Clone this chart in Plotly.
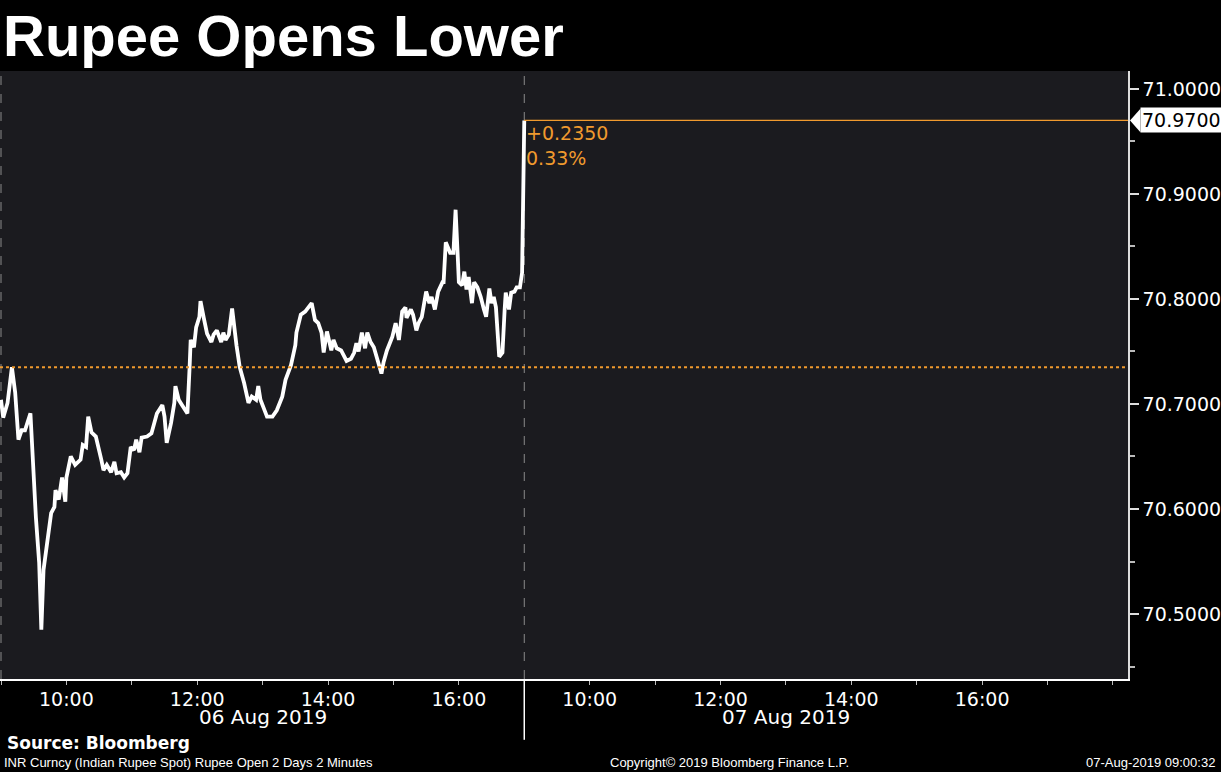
import plotly.graph_objects as go

# ---------------- data ----------------
day1_times = ["09:00","09:02","09:06","09:10","09:13","09:16","09:19","09:22","09:27","09:28",
"09:32","09:35","09:37","09:39","09:42","09:46","09:49","09:50","09:53","09:56","09:59","10:00",
"10:04","10:08","10:13","10:15","10:18","10:20","10:23","10:27","10:32","10:34","10:37","10:41",
"10:44","10:46","10:50","10:53","10:56","10:59","11:02","11:04","11:07","11:09","11:14","11:18",
"11:23","11:28","11:30","11:32","11:36","11:39","11:40","11:43","11:46","11:51","11:53","11:54",
"11:57","11:59","12:02","12:03","12:06","12:09","12:13","12:15","12:18","12:22","12:24","12:26",
"12:29","12:32","12:36","12:39","12:43","12:47","12:50","12:54","12:56","12:58","13:01","13:04",
"13:09","13:13","13:18","13:21","13:26","13:30","13:31","13:35","13:39","13:43","13:45","13:48",
"13:51","13:54","13:56","13:59","14:03","14:05","14:08","14:12","14:15","14:17","14:21","14:24",
"14:26","14:28","14:31","14:34","14:36","14:39","14:42","14:45","14:49","14:51","14:54","14:59",
"15:02","15:05","15:08","15:11","15:12","15:16","15:18","15:21","15:23","15:26","15:30","15:33",
"15:35","15:38","15:41","15:45","15:46","15:48","15:52","15:55","15:57","15:59","16:00","16:03",
"16:05","16:07","16:09","16:12","16:14","16:17","16:20","16:23","16:25","16:28","16:30","16:32",
"16:34","16:37","16:40","16:42","16:43","16:46","16:48","16:51","16:53","16:56","16:58"]

day1_values = [70.704,70.687,70.701,70.735,70.711,70.666,70.675,70.675,70.691,70.669,
70.592,70.549,70.485,70.542,70.564,70.596,70.602,70.618,70.609,70.630,70.607,70.630,
70.650,70.642,70.647,70.661,70.659,70.688,70.673,70.669,70.647,70.637,70.642,70.635,
70.645,70.634,70.635,70.630,70.634,70.659,70.656,70.666,70.654,70.668,70.669,70.672,
70.691,70.699,70.688,70.663,70.682,70.701,70.717,70.704,70.699,70.691,70.735,70.761,
70.754,70.773,70.783,70.798,70.782,70.767,70.759,70.766,70.770,70.759,70.768,70.761,
70.766,70.791,70.756,70.735,70.720,70.701,70.707,70.704,70.717,70.704,70.696,70.688,
70.688,70.694,70.707,70.723,70.737,70.756,70.768,70.785,70.788,70.793,70.796,70.780,
70.777,70.768,70.749,70.769,70.751,70.761,70.753,70.751,70.744,70.741,70.743,70.749,
70.758,70.750,70.768,70.753,70.768,70.759,70.754,70.744,70.729,70.740,70.751,70.764,
70.777,70.761,70.788,70.792,70.782,70.790,70.785,70.770,70.777,70.783,70.807,70.796,
70.802,70.790,70.807,70.816,70.816,70.854,70.844,70.844,70.885,70.840,70.816,70.813,
70.826,70.809,70.821,70.796,70.816,70.811,70.802,70.790,70.783,70.810,70.796,70.802,
70.792,70.745,70.749,70.790,70.806,70.790,70.806,70.807,70.811,70.811,70.825]

day2_times = ["09:00"]
day2_values = [70.970]

prev_close = 70.735
last_price = 70.970
change_text = "+0.2350"
pct_text = "0.33%"

hour_labels = ["10:00", "12:00", "14:00", "16:00"]
day_labels = ["06 Aug 2019", "07 Aug 2019"]
y_ticks = [70.5, 70.6, 70.7, 70.8, 70.9, 71.0]

title_text = "Rupee Opens Lower"
source_text = "Source: Bloomberg"
desc_text = "INR Curncy (Indian Rupee Spot) Rupee Open 2 Days 2 Minutes"
copy_text = "Copyright\u00a9 2019 Bloomberg Finance L.P."
stamp_text = "07-Aug-2019 09:00:32"

# ---------------- compressed session axis ----------------
SESSION_START = 9.0
SESSION_LEN = 8.0


def to_x(t, day):
    h, m = t.split(":")
    return day * SESSION_LEN + (int(h) + int(m) / 60.0 - SESSION_START)


xs = [to_x(t, 0) for t in day1_times] + [to_x(t, 1) for t in day2_times]
ys = day1_values + day2_values

tickvals, ticktext = [], []
for d in range(2):
    for lab in hour_labels:
        tickvals.append(to_x(lab, d))
        ticktext.append(lab)

ORANGE = "#f09a2e"
BG = "#000000"
PLOT_BG = "#1b1b1f"
FONT = "DejaVu Sans"
SMALL = "Liberation Sans Narrow, Liberation Sans"

fig = go.Figure()
fig.add_trace(go.Scatter(x=xs, y=ys, mode="lines",
                         line=dict(color="white", width=3.8), hoverinfo="skip",
                         showlegend=False))

x_end = 17.23
fig.update_layout(
    width=1221, height=772,
    margin=dict(l=0, r=93, t=71, b=93),
    paper_bgcolor=BG, plot_bgcolor=PLOT_BG,
    font=dict(family=FONT, color="white", size=18),
    xaxis=dict(range=[-0.0153, x_end], showgrid=False, zeroline=False,
               tickvals=tickvals, ticktext=ticktext,
               ticks="outside", ticklen=2, tickcolor="#bbbbbb", tickwidth=1,
               tickfont=dict(size=19, color="white", family=FONT),
               showline=True, linecolor="white", linewidth=1.5,
               minor=dict(tickvals=[i for i in range(0, 18)], ticks="outside",
                          ticklen=4, tickcolor="#bbbbbb")),
    yaxis=dict(range=[70.4381, 71.0171], side="right", showgrid=False, zeroline=False,
               tickvals=y_ticks, ticktext=["%.4f" % v for v in y_ticks],
               ticks="outside", ticklen=9, tickcolor="#dddddd", tickwidth=1.5,
               tickfont=dict(size=19, color="white", family=FONT),
               showline=True, linecolor="#dddddd", linewidth=1.5,
               minor=dict(tickvals=[70.45, 70.55, 70.65, 70.75, 70.85, 70.95],
                          ticks="outside", ticklen=5, tickcolor="#bbbbbb")),
)

# reference lines
fig.add_shape(type="line", xref="paper", x0=0, x1=1, y0=prev_close, y1=prev_close,
              line=dict(color=ORANGE, width=2, dash="dot"))
fig.add_shape(type="line", x0=SESSION_LEN, x1=x_end, y0=last_price, y1=last_price,
              line=dict(color=ORANGE, width=1.2))
for xv in [0, SESSION_LEN]:
    fig.add_shape(type="line", x0=xv, x1=xv, yref="paper", y0=0, y1=1,
                  line=dict(color="#8a8a8a", width=1, dash="dash"), layer="below")
fig.add_shape(type="line", x0=SESSION_LEN, x1=SESSION_LEN, yref="paper", y0=0, y1=-0.1,
              line=dict(color="white", width=1.5))

# last price tag
fig.add_shape(type="path", xref="paper", yref="y",
              path="M 1.0018 %f L 1.0110 %f L 1.0110 %f Z" % (last_price, last_price + 0.0112, last_price - 0.0112),
              fillcolor="white", line=dict(color="white", width=0))
fig.add_annotation(xref="paper", x=1.0105, y=last_price, xanchor="left", yanchor="middle",
                   text="%.4f" % last_price, showarrow=False, bgcolor="white",
                   font=dict(color="black", size=19, family=FONT), borderpad=1)

fig.add_annotation(x=SESSION_LEN + 0.0, y=70.958, xanchor="left", yanchor="middle",
                   text=change_text, showarrow=False, font=dict(color=ORANGE, size=19, family=FONT))
fig.add_annotation(x=SESSION_LEN + 0.0, y=70.934, xanchor="left", yanchor="middle",
                   text=pct_text, showarrow=False, font=dict(color=ORANGE, size=19, family=FONT))

# day labels
for d, lab in enumerate(day_labels):
    fig.add_annotation(x=to_x("13:00", d), yref="paper", y=-0.0625, text=lab, showarrow=False,
                       xanchor="center", yanchor="middle", font=dict(size=20, color="white", family=FONT))

# title and footer
fig.add_annotation(xref="paper", yref="paper", x=0.0005, y=1.058, xanchor="left", yanchor="middle",
                   text="<b>%s</b>" % title_text, showarrow=False,
                   font=dict(size=58, color="white", family="Liberation Sans"))
fig.add_annotation(xref="paper", yref="paper", x=0.004, y=-0.1053, xanchor="left", yanchor="middle",
                   text="<b>%s</b>" % source_text, showarrow=False,
                   font=dict(size=17, color="white", family=FONT))
fig.add_annotation(xref="paper", yref="paper", x=0.002, y=-0.138, xanchor="left", yanchor="middle",
                   text=desc_text, showarrow=False,
                   font=dict(size=13, color="white", family=SMALL))
fig.add_annotation(xref="paper", yref="paper", x=0.647, y=-0.138, xanchor="center", yanchor="middle",
                   text=copy_text, showarrow=False,
                   font=dict(size=13, color="white", family=SMALL))
fig.add_annotation(xref="paper", yref="paper", x=1.0789, y=-0.138, xanchor="right", yanchor="middle",
                   text=stamp_text, showarrow=False,
                   font=dict(size=13, color="white", family=SMALL))

fig.write_html("out.html", config={"displayModeBar": False},
               post_script="document.body.style.margin='0px';document.body.style.background='#000';")
